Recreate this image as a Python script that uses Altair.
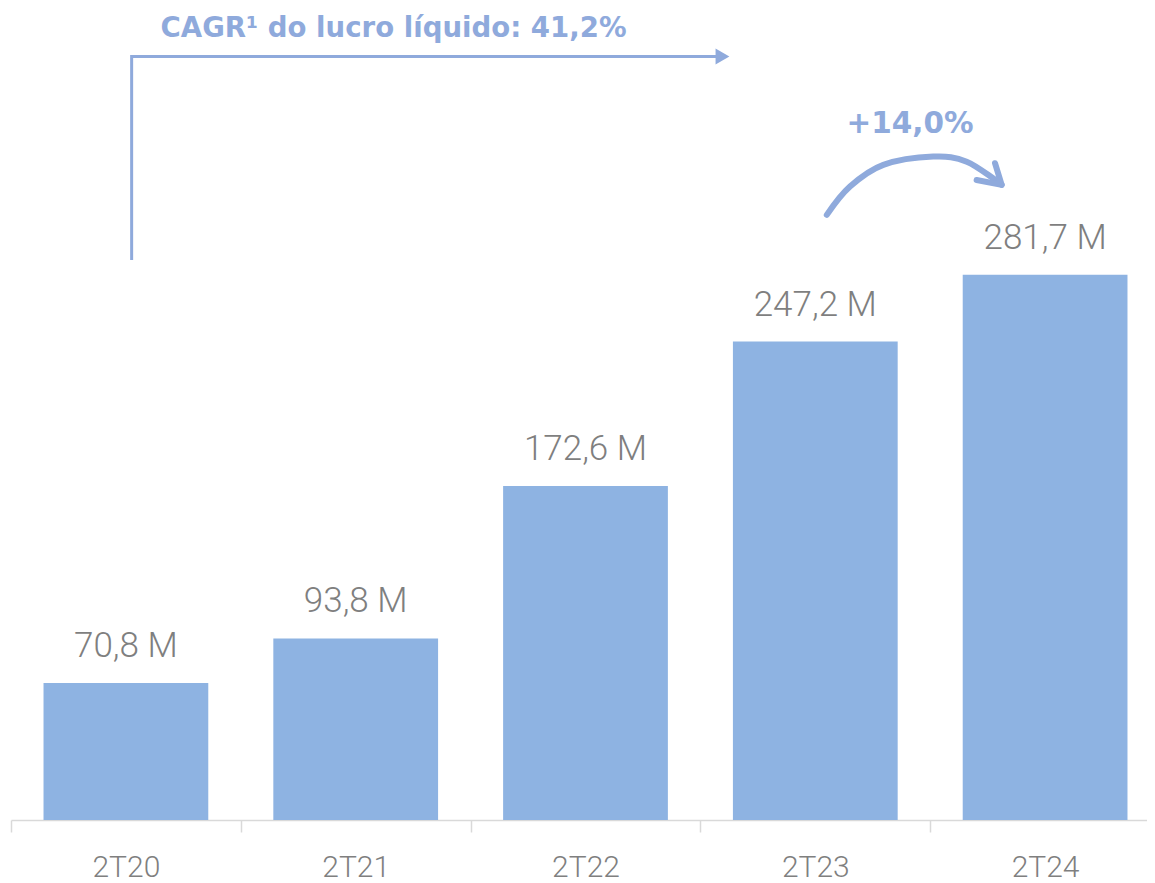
import altair as alt
import pandas as pd

# ---- data ----
categories = ["2T20", "2T21", "2T22", "2T23", "2T24"]
values = [70.8, 93.8, 172.6, 247.2, 281.7]
value_labels = ["70,8 M", "93,8 M", "172,6 M", "247,2 M", "281,7 M"]

cagr_text = "CAGR¹ do lucro líquido: 41,2%"
growth_text = "+14,0%"

# annotation geometry in data units (x: category index space 0..5, y: value)
cagr_line_x = [0.525, 0.525, 3.09]
cagr_line_y = [289.4, 394.6, 394.6]
cagr_head_x = [3.096]
cagr_head_y = [394.6]
cagr_text_x = [0.651]
cagr_text_y = [404.8]

curve_x = [3.550, 3.651, 3.796, 4.013, 4.159, 4.311]
curve_y = [312.7, 327.3, 338.5, 342.8, 340.2, 328.2]
head_x = [4.202, 4.311, 4.282]
head_y = [330.7, 328.2, 339.4]
growth_x = [3.912]
growth_y = [355.0]

BAR = "#8EB3E2"
ACC = "#8FAADC"
GRAY = "#7F7F7F"
YDOM = [0, 419.6]
XRANGE = [0, 1149]

bars_df = pd.DataFrame({"cat": categories, "val": values, "lab": value_labels})

yscale = alt.Scale(domain=YDOM, nice=False, zero=True)
qx = alt.Scale(domain=[0, 5], nice=False, zero=False, range=XRANGE)
bx = alt.Scale(paddingInner=0, paddingOuter=0, range=XRANGE)

bars = alt.Chart(bars_df).mark_bar(
    color=BAR, width=alt.RelativeBandSize(0.717)
).encode(
    x=alt.X(
        "cat:N",
        sort=categories,
        title=None,
        scale=bx,
        axis=alt.Axis(
            labelAngle=0,
            labelFont="Roboto",
            labelFontSize=30,
            labelFontWeight=300,
            labelColor=GRAY,
            labelBaseline="alphabetic",
            labelPadding=44,
            domainColor="#D9D9D9",
            domainWidth=1.5,
            tickColor="#D9D9D9",
            tickWidth=1.5,
            tickSize=12,
            tickBand="extent",
            grid=False,
        ),
    ),
    y=alt.Y("val:Q", scale=yscale, axis=None),
)

labels = alt.Chart(bars_df).mark_text(
    dy=-26, baseline="alphabetic", font="Roboto", fontSize=35, fontWeight=300,
    color=GRAY
).encode(
    x=alt.X("cat:N", sort=categories, scale=bx, axis=None),
    y=alt.Y("val:Q", scale=yscale, axis=None),
    text="lab:N",
)


def qenc(ch):
    return ch.encode(
        x=alt.X("x:Q", scale=qx, axis=None),
        y=alt.Y("y:Q", scale=yscale, axis=None),
    )


elbow = qenc(
    alt.Chart(pd.DataFrame({"x": cagr_line_x, "y": cagr_line_y, "i": range(3)}))
    .mark_line(color=ACC, strokeWidth=3)
).encode(order="i:Q")

elbow_head = qenc(
    alt.Chart(pd.DataFrame({"x": cagr_head_x, "y": cagr_head_y})).mark_point(
        shape="triangle-right", filled=True, color=ACC, size=256, opacity=1
    )
)

cagr = qenc(
    alt.Chart(pd.DataFrame({"x": cagr_text_x, "y": cagr_text_y, "t": [cagr_text]})).mark_text(
        align="left", baseline="alphabetic", font="DejaVu Sans", fontWeight="bold",
        fontSize=27.6, color=ACC
    )
).encode(text="t:N")

curve = qenc(
    alt.Chart(pd.DataFrame({"x": curve_x, "y": curve_y, "i": range(len(curve_x))})).mark_line(
        color=ACC, strokeWidth=6, strokeCap="round", interpolate="cardinal"
    )
).encode(order="i:Q")

head = qenc(
    alt.Chart(pd.DataFrame({"x": head_x, "y": head_y, "i": range(3)})).mark_line(
        color=ACC, strokeWidth=6, strokeCap="round", strokeJoin="round"
    )
).encode(order="i:Q")

growth = qenc(
    alt.Chart(pd.DataFrame({"x": growth_x, "y": growth_y, "t": [growth_text]})).mark_text(
        align="center", baseline="alphabetic", font="DejaVu Sans", fontWeight="bold",
        fontSize=29.5, color=ACC
    )
).encode(text="t:N")

chart = (
    alt.layer(bars, labels, elbow, elbow_head, cagr, curve, head, growth)
    .resolve_scale(x="independent")
    .properties(
        width=1136,
        height=812,
        padding={"left": 3, "top": 0, "right": 0, "bottom": 62},
        autosize=alt.AutoSizeParams(type="none"),
        background="white",
    )
    .configure_view(stroke=None)
)

chart.save("out.html", embed_options={"renderer": "svg", "actions": False})
